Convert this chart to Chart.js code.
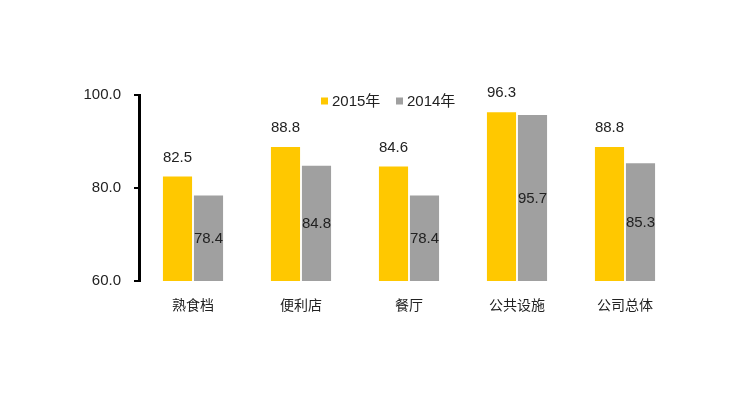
<!DOCTYPE html>
<html>
<head>
<meta charset="utf-8">
<script src="https://cdn.jsdelivr.net/npm/chart.js@4"></script>
<style>
html,body{margin:0;padding:0;background:#fff;}
#wrap{width:754px;height:395px;position:relative;}
</style>
</head>
<body>
<div id="wrap"><canvas id="c" width="754" height="395"></canvas></div>
<script>
const categories = ['熟食档', '便利店', '餐厅', '公共设施', '公司总体'];
const series2015 = [82.5, 88.8, 84.6, 96.3, 88.8];
const series2014 = [78.4, 84.8, 78.4, 95.7, 85.3];
const seriesNames = ['2015年', '2014年'];
const yTicks = [60, 80, 100];

const FONT = '"Liberation Sans", Arial, "Noto Sans CJK SC", sans-serif';
const TEXT = '#222';
const YELLOW = '#FFC800';
const GRAY = '#A0A0A0';

const labelPlugin = {
  id: 'labels',
  afterDatasetsDraw(chart) {
    const ctx = chart.ctx;
    const ys = chart.scales.y;
    const basePx = ys.getPixelForValue(ys.min);
    ctx.save();
    ctx.font = '15px ' + FONT;
    ctx.fillStyle = TEXT;
    ctx.textAlign = 'center';
    ctx.textBaseline = 'middle';
    chart.data.datasets.forEach((ds, di) => {
      const meta = chart.getDatasetMeta(di);
      meta.data.forEach((el, i) => {
        const v = ds.data[i].toFixed(1);
        if (di === 0) {
          ctx.fillText(v, el.x, el.y - 19);
        } else {
          ctx.fillText(v, el.x, (el.y + basePx) / 2 + 1);
        }
      });
    });
    ctx.restore();
  }
};

const legendPlugin = {
  id: 'customLegend',
  afterDraw(chart) {
    const ctx = chart.ctx;
    ctx.save();
    ctx.font = '15px ' + FONT;
    ctx.textBaseline = 'middle';
    ctx.textAlign = 'left';
    const cy = 101;
    const starts = [321, 396];
    chart.data.datasets.forEach((ds, i) => {
      const x = starts[i];
      ctx.fillStyle = ds.backgroundColor;
      ctx.fillRect(x, cy - 3.5, 7, 7);
      ctx.fillStyle = TEXT;
      ctx.fillText(ds.label, x + 11, cy + 0.5);
    });
    ctx.restore();
  }
};

new Chart(document.getElementById('c'), {
  type: 'bar',
  data: {
    labels: categories,
    datasets: [
      { label: seriesNames[0], data: series2015, backgroundColor: YELLOW },
      { label: seriesNames[1], data: series2014, backgroundColor: GRAY }
    ]
  },
  options: {
    responsive: false,
    animation: false,
    devicePixelRatio: 1,
    layout: { padding: { top: 95, right: 75, bottom: 0, left: 0 } },
    plugins: { legend: { display: false }, tooltip: { enabled: false } },
    datasets: { bar: { categoryPercentage: 0.574, barPercentage: 0.94 } },
    scales: {
      x: {
        grid: { display: false, drawTicks: false },
        border: { display: false },
        ticks: { color: TEXT, font: { family: FONT, size: 14 }, padding: 17 },
        afterFit(s) { s.height = 114; }
      },
      y: {
        min: 60, max: 100,
        afterBuildTicks(s) { s.ticks = yTicks.map(v => ({ value: v })); },
        grid: { drawOnChartArea: false, drawTicks: true, tickLength: 5, color: '#000', lineWidth: 2 },
        border: { display: true, color: '#000', width: 3 },
        ticks: {
          color: TEXT, font: { family: FONT, size: 15 }, padding: 13,
          callback: v => Number(v).toFixed(1)
        },
        afterFit(s) { s.width = 139; }
      }
    }
  },
  plugins: [labelPlugin, legendPlugin]
});
</script>
</body>
</html>
